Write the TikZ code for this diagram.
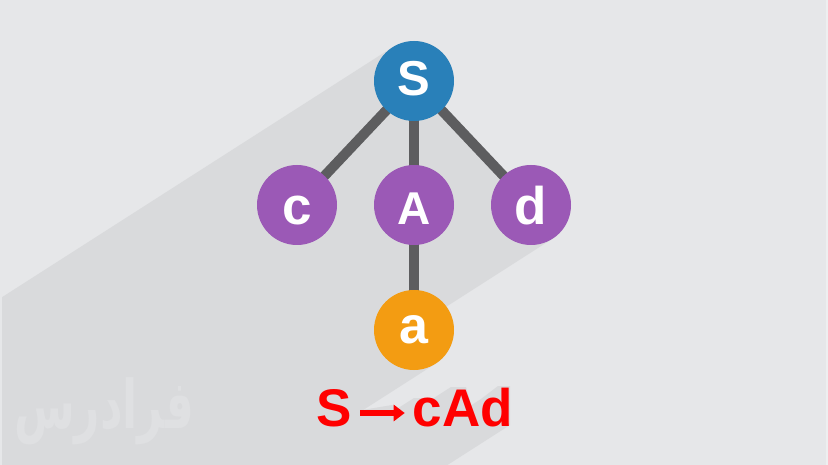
\documentclass[tikz,border=0pt]{standalone}
\usepackage{fontspec}
\setmainfont{Liberation Sans}
\newfontfamily\arabicfont[Script=Arabic]{DejaVu Sans}
\TeXXeTstate=1
\usetikzlibrary{arrows.meta,calc}
\definecolor{bgc}{HTML}{E6E7E9}
\definecolor{shadowc}{HTML}{D9DADC}
\definecolor{wmc}{HTML}{DFE0E2}
\definecolor{edgec}{HTML}{5D5D5F}
\definecolor{bluec}{HTML}{2980B9}
\definecolor{purplec}{HTML}{9B59B6}
\definecolor{orangec}{HTML}{F39C12}
\definecolor{rimc}{HTML}{EEEFF0}
\pgfdeclarelayer{bg}
\pgfsetlayers{bg,main}
\newcommand{\gsweep}[4]{\fill[shadowc] (#1,#2) -- (#3,#2) -- (#3,#4) -- ++(-1263.5,808.7) -- ++({#1-#3},{#2-#4}) -- cycle;}
\tikzset{
  vnode/.style={circle, minimum size=80pt, inner sep=0pt, text=white,
    font=\bfseries\fontsize{53}{53}\selectfont, text height=39pt, text depth=0pt},
  edge/.style={draw=edgec, line width=10pt},
  circshadow/.style={draw=shadowc, line width=80pt, line cap=round},
  segshadow/.style={fill=shadowc, draw=shadowc, line width=10pt, line join=round},
  redtxt/.style={text=red, inner sep=0pt, font=\bfseries\fontsize{53}{53}\selectfont},
  arr/.style={draw=red, line width=6pt, -{Triangle[length=11pt,width=16pt]}, shorten <=8pt, shorten >=8pt},
  wm/.style={text=wmc, inner sep=0pt, xscale=0.8, yscale=1.22, font=\arabicfont\bfseries\fontsize{55}{55}\selectfont}
}
\begin{document}
\begin{tikzpicture}[x=1pt,y=-1pt]
\useasboundingbox (0,0) rectangle (828,465);
% tree nodes
\node[vnode, fill=bluec, font=\bfseries\fontsize{49}{49}\selectfont, text height=29pt] (S) at (414,81) {S};
\node[vnode, fill=purplec] (c) at (297,205) {c};
\node[vnode, fill=purplec, font=\bfseries\fontsize{46}{46}\selectfont] (A) at (414,205) {A};
\node[vnode, fill=purplec] (d) at (531,205) {d};
\node[vnode, fill=orangec, font=\bfseries\fontsize{52}{52}\selectfont, text height=27pt] (a) at (414,330) {a};
% production
\node[redtxt, anchor=base] (lhs) at (334.5,426) {S};
\node[redtxt, anchor=base] (rhs) at (463,426) {cAd};
\draw[arr] ([yshift=13pt]lhs.base east) -- ([yshift=13pt]rhs.base west);
\begin{pgfonlayer}{bg}
  \fill[bgc] (0,0) rectangle (828,465);
  \begin{scope}
    \clip (2,0) rectangle (825.5,465);
    % long shadows of circles
    \foreach \n in {S,c,A,d,a} {
      \draw[circshadow] (\n.center) -- ++(-1263.5,808.7);
    }
    % long shadows of edges
    \foreach \p/\q in {S/c,S/A,S/d,A/a} {
      \path[segshadow] (\p.center) -- (\q.center) -- ($(\q.center)+(-1263.5,808.7)$) -- ($(\p.center)+(-1263.5,808.7)$) -- cycle;
    }
    % long shadows of the text
    \gsweep{318}{388}{351}{426}
    \gsweep{414}{398}{439}{426}
    \fill[shadowc] (362,410) -- (392,405) -- (403,413) -- (392,420) -- ++(-1263.5,808.7) -- ++(-30,-10) -- cycle;
    \fill[shadowc] (451,387) -- (466,387) -- (477,425) -- ++(-1263.5,808.7) -- ++(-26,-38) -- cycle;
    \fill[shadowc] (481,399) -- (498,386) -- (510,386) -- (510,425) -- ++(-1263.5,808.7) -- ++(-29,-26) -- cycle;
  \end{scope}
  \fill[rimc] (825.5,0) rectangle (828,465);
  % watermark
  \node[wm] (wmark) at (104,411) {\beginR فرادرس\endR};
  % edges
  \draw[edge] (S.center) -- (c.center);
  \draw[edge] (S.center) -- (A.center);
  \draw[edge] (S.center) -- (d.center);
  \draw[edge] (A.center) -- (a.center);
\end{pgfonlayer}
\end{tikzpicture}
\end{document}
